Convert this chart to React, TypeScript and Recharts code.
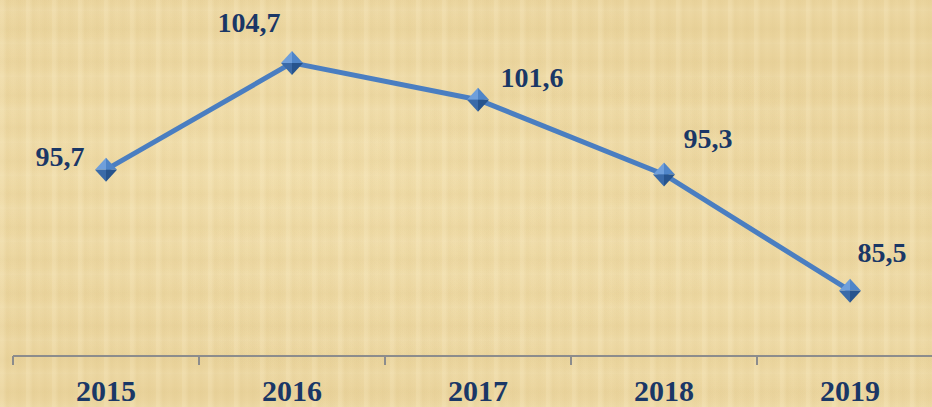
import { LabelList, Line, LineChart, XAxis, YAxis } from 'recharts';

const years = ['2015', '2016', '2017', '2018', '2019'];
const values = [95.7, 104.7, 101.6, 95.3, 85.5];

// label placement relative to each point (dx to text centre, dy to baseline)
const labelOffsets = [
  { dx: -46, dy: -4 },
  { dx: -43, dy: -31 },
  { dx: 54, dy: -13 },
  { dx: 44, dy: -26 },
  { dx: 32, dy: -29 },
];

const data = years.map((year, i) => ({ year, value: values[i] }));

const chartWidth = 960;
const chartHeight = 407;
const margin = { top: 0, right: 17, bottom: 0, left: 13 };
const band = (chartWidth - margin.left - margin.right) / years.length;

const navy = '#1a3766';
const lineBlue = '#4a7ec1';
const fontFamily = '"Liberation Serif", "Times New Roman", serif';

const papyrus = [
  'repeating-linear-gradient(90deg, rgba(255,245,215,0.15) 0px, rgba(255,245,215,0.15) 3px, rgba(190,160,90,0.06) 7px, rgba(255,245,215,0) 13px, rgba(200,170,100,0.07) 19px, rgba(255,245,215,0) 26px)',
  'repeating-linear-gradient(0deg, rgba(255,248,225,0.12) 0px, rgba(255,248,225,0) 7px, rgba(195,165,95,0.06) 15px, rgba(255,248,225,0) 22px, rgba(255,248,225,0.08) 33px)',
  'radial-gradient(ellipse at 30% 40%, rgba(248,232,185,0.45), rgba(248,232,185,0) 60%)',
  'radial-gradient(ellipse at 80% 70%, rgba(243,225,175,0.4), rgba(243,225,175,0) 55%)',
].join(', ');

interface DotProps {
  cx?: number;
  cy?: number;
  index?: number;
}

function renderDiamond({ cx = 0, cy = 0, index }: DotProps) {
  const w = 11;
  const h = 12;
  const t = `${cx},${cy - h}`;
  const r = `${cx + w},${cy}`;
  const b = `${cx},${cy + h}`;
  const l = `${cx - w},${cy}`;
  const c = `${cx},${cy}`;
  return (
    <g key={`dot-${index}`}>
      <polygon points={`${l} ${t} ${c}`} fill="#6f9fdb" />
      <polygon points={`${t} ${r} ${c}`} fill="#4f85c8" />
      <polygon points={`${r} ${b} ${c}`} fill="#27548d" />
      <polygon points={`${b} ${l} ${c}`} fill="#3a6aa8" />
    </g>
  );
}

interface LabelProps {
  x?: number | string;
  y?: number | string;
  value?: number | string;
  index?: number;
}

function renderLabel({ x, y, value, index = 0 }: LabelProps) {
  const off = labelOffsets[index] ?? { dx: 0, dy: -12 };
  return (
    <text
      x={Number(x) + off.dx}
      y={Number(y) + off.dy}
      textAnchor="middle"
      fill={navy}
      fontSize={28}
      fontWeight="bold"
      fontFamily={fontFamily}
    >
      {Number(value).toFixed(1).replace('.', ',')}
    </text>
  );
}

interface TickProps {
  x?: number;
  y?: number;
  index?: number;
  payload?: { value: string };
}

function YearTick({ x = 0, y = 0, index = 0, payload }: TickProps) {
  return (
    <g>
      <line x1={x - band / 2} x2={x - band / 2} y1={y} y2={y + 9} stroke="#8c8c8c" strokeWidth={2} />
      {index === years.length - 1 ? (
        <line x1={x + band / 2} x2={x + band / 2} y1={y} y2={y + 9} stroke="#8c8c8c" strokeWidth={2} />
      ) : null}
      <text x={x} y={y + 45} textAnchor="middle" fill={navy} fontSize={30} fontWeight="bold" fontFamily={fontFamily}>
        {payload?.value}
      </text>
    </g>
  );
}

export default function App() {
  return (
    <div
      style={{
        position: 'absolute',
        left: 0,
        top: 0,
        width: 932,
        height: 407,
        overflow: 'hidden',
        backgroundColor: '#ebd59e',
        backgroundImage: papyrus,
      }}
    >
      <LineChart width={chartWidth} height={chartHeight} data={data} margin={margin}>
        <XAxis
          dataKey="year"
          height={51}
          tickLine={false}
          tickSize={0}
          tickMargin={0}
          interval={0}
          padding={{ left: band / 2, right: band / 2 }}
          axisLine={{ stroke: '#8c8c8c', strokeWidth: 2 }}
          tick={<YearTick />}
        />
        <YAxis hide domain={[80, 110]} />
        <Line
          type="linear"
          dataKey="value"
          stroke={lineBlue}
          strokeWidth={5}
          dot={renderDiamond}
          activeDot={false}
          isAnimationActive={false}
        >
          <LabelList dataKey="value" content={renderLabel} />
        </Line>
      </LineChart>
    </div>
  );
}
